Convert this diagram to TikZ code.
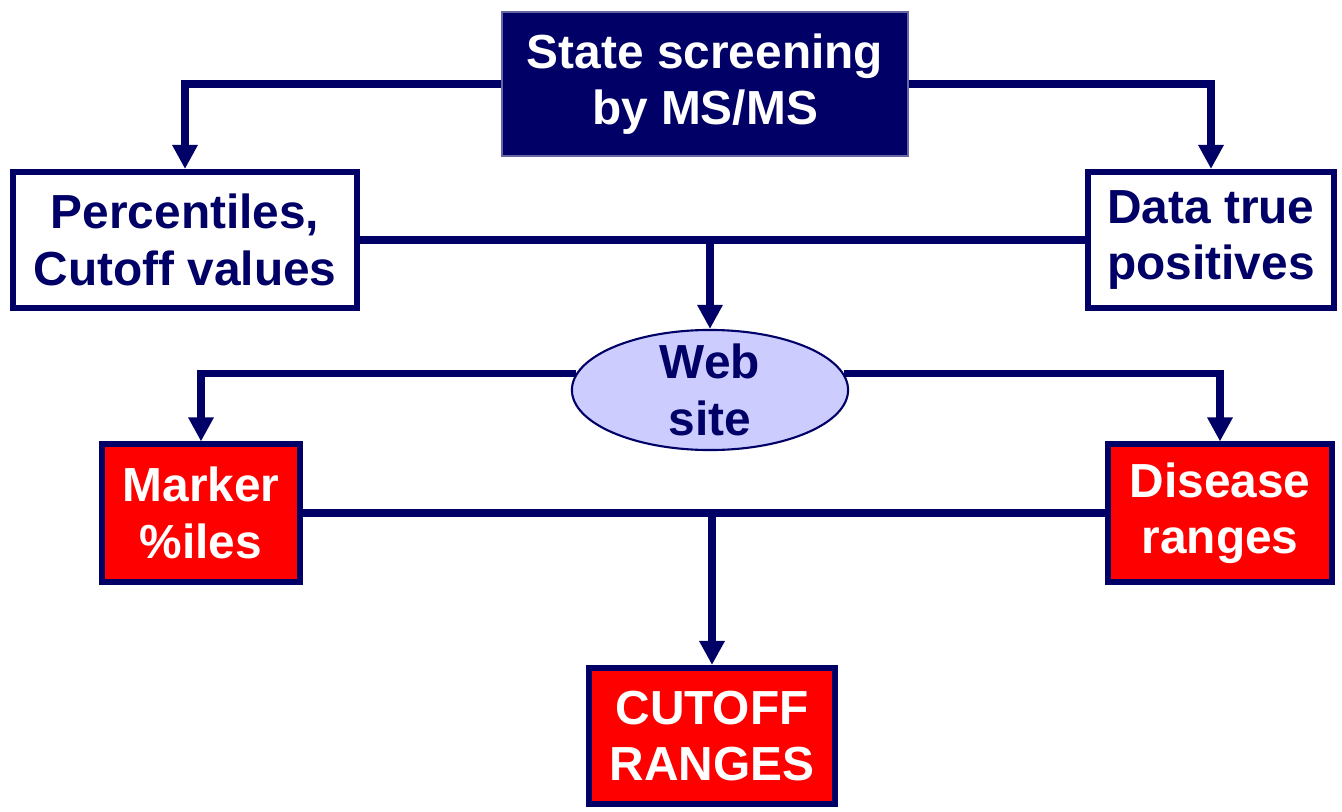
\documentclass[tikz,border=0pt]{standalone}
\usepackage{fontspec}
\setmainfont{Liberation Sans}
\usepackage{xcolor}
\usetikzlibrary{arrows.meta,shapes.geometric}
\definecolor{navy}{RGB}{0,0,102}
\definecolor{lav}{RGB}{204,204,255}
\begin{document}
\begin{tikzpicture}[x=0.01cm,y=-0.01cm,
  box/.style={draw=navy,line width=1.7pt,align=center,inner sep=0pt,
    font=\fontsize{13.6}{16}\selectfont\bfseries},
  whitebox/.style={box,fill=white,text=navy},
  redbox/.style={box,fill=red,text=white},
  conn/.style={draw=navy,line width=2pt},
  arr/.style={conn,-{Triangle[width=0.24cm,length=0.24cm]}}]
\useasboundingbox(0,0)rectangle(1342,812);
% boxes
\node[box,fill=navy,draw=navy!60,line width=0.4pt,text=white,minimum width=4.06cm,minimum height=1.44cm](top)at(705,84){State screening\\by MS/MS};
\node[whitebox,minimum width=3.44cm,minimum height=1.36cm](pct)at(185,240){Percentiles,\\Cutoff values};
\node[whitebox,minimum width=2.46cm,minimum height=1.36cm](dtp)at(1211,240){Data true\\positives};
\node[ellipse,draw=navy,line width=0.6pt,fill=lav,text=navy,align=center,inner xsep=0pt,inner ysep=-0.08cm,
  font=\fontsize{13.6}{16}\selectfont\bfseries,minimum width=2.76cm,minimum height=1.2cm](web)at(710,390){Web\\site};
\node[redbox,minimum width=1.97cm,minimum height=1.37cm](mrk)at(201,513){Marker\\\%iles};
\node[redbox,minimum width=2.24cm,minimum height=1.37cm](dis)at(1220,513){Disease\\ranges};
\node[redbox,minimum width=2.46cm,minimum height=1.36cm](cut)at(712,736){CUTOFF\\RANGES};
% connectors
\draw[arr](top.west)-|(pct.north);
\draw[arr](top.east)-|(dtp.north);
\draw[conn](pct.east)--(dtp.west);
\draw[arr](web.north|-pct.east)--(web.north);
\draw[arr](web.173)-|(mrk.north);
\draw[arr](web.7)-|(dis.north);
\draw[conn](mrk.east)--(dis.west);
\draw[arr](cut.north|-mrk.east)--(cut.north);
\end{tikzpicture}
\end{document}
